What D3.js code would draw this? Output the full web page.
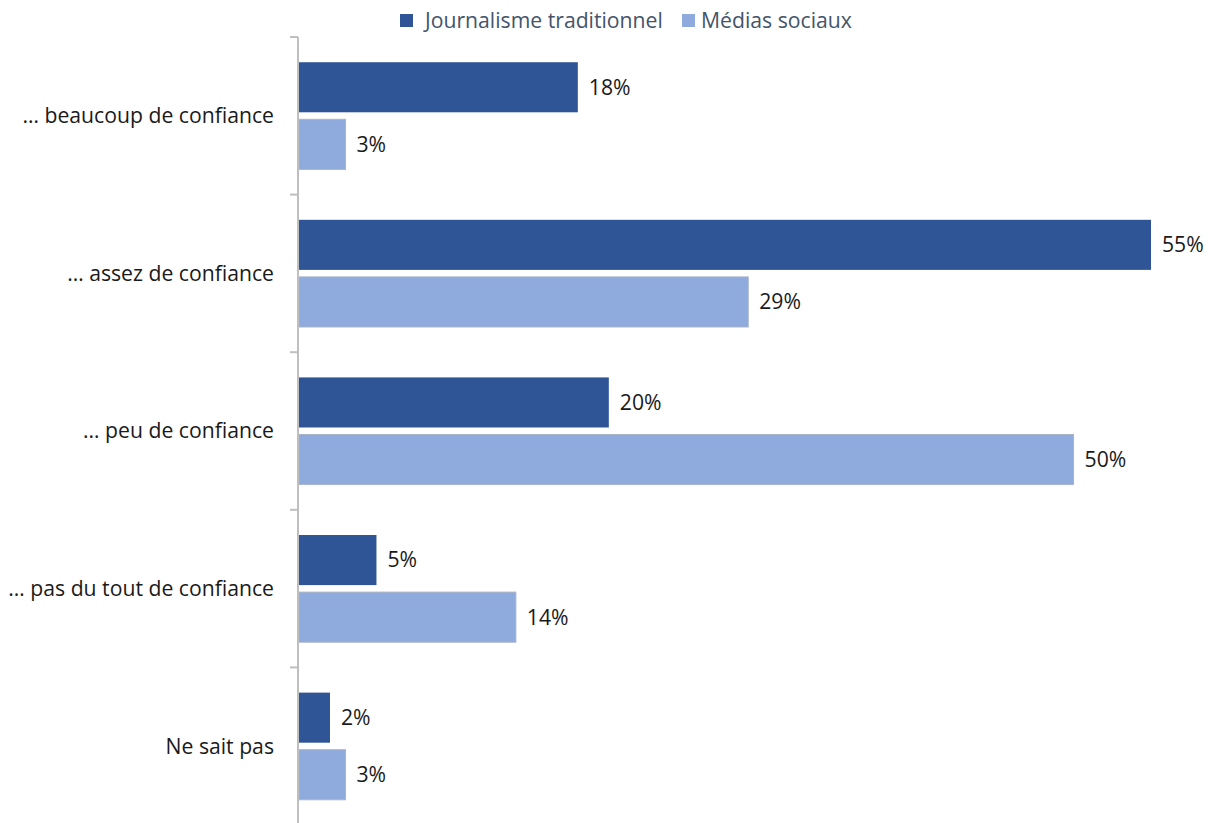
<!DOCTYPE html>
<html>
<head>
<meta charset="utf-8">
<script src="https://cdn.jsdelivr.net/npm/d3@7"></script>
<style>
  html, body { margin: 0; padding: 0; background: #fff; }
  svg { display: block; font-family: "Open Sans", "Segoe UI", sans-serif; }
</style>
</head>
<body>
<svg id="chart" width="1210" height="823"></svg>
<script>
// Niveau de confiance selon la source d'information (%)
const categories = [
  "… beaucoup de confiance",
  "… assez de confiance",
  "… peu de confiance",
  "… pas du tout de confiance",
  "Ne sait pas"
];
const seriesNames = ["Journalisme traditionnel", "Médias sociaux"];
const journalisme = [18, 55, 20, 5, 2];
const mediasSociaux = [3, 29, 50, 14, 3];
const seriesColors = ["#2F5597", "#8FAADC"];

const FONT = 21.2;
const svg = d3.select("#chart");
const margin = { top: 37, left: 298 };
const H = 823;
const plotBottom = 825;

const y = d3.scaleBand()
  .domain(categories)
  .range([margin.top, plotBottom])
  .paddingInner(0.32)
  .paddingOuter(0.16);

const x = d3.scaleLinear().domain([0, 55]).range([margin.left + 1, 1151]);

const inner = d3.scaleBand()
  .domain(seriesNames)
  .range([0, y.bandwidth()])
  .paddingInner(0.123);

const rows = categories.map((c, i) => ({
  cat: c,
  vals: [journalisme[i], mediasSociaux[i]]
}));

// Bars and value labels
const g = svg.append("g");
rows.forEach(r => {
  r.vals.forEach((v, j) => {
    const by = y(r.cat) + inner(seriesNames[j]);
    g.append("rect")
      .attr("x", x(0))
      .attr("y", by)
      .attr("width", x(v) - x(0))
      .attr("height", inner.bandwidth())
      .attr("fill", seriesColors[j])
      .attr("stroke", j === 1 ? "#A9B4C6" : "none")
      .attr("stroke-width", j === 1 ? 1 : 0);
    g.append("text")
      .attr("x", x(v) + 11)
      .attr("y", by + inner.bandwidth() / 2)
      .attr("dy", "0.35em")
      .attr("font-size", FONT)
      .attr("fill", "#1a1a1a")
      .text(v + "%");
  });
});

// Category axis
const step = y.step();
const boundaries = d3.range(categories.length).map(i => y(categories[i]) - y.paddingOuter() * step);
const axis = svg.append("g");
axis.append("line")
  .attr("x1", margin.left).attr("x2", margin.left)
  .attr("y1", margin.top).attr("y2", H)
  .attr("stroke", "#BFBFBF").attr("stroke-width", 2);
axis.selectAll("line.tick")
  .data(boundaries)
  .join("line")
  .attr("class", "tick")
  .attr("x1", margin.left - 8).attr("x2", margin.left)
  .attr("y1", d => d).attr("y2", d => d)
  .attr("stroke", "#BFBFBF").attr("stroke-width", 2);
axis.selectAll("text")
  .data(categories)
  .join("text")
  .attr("x", 274)
  .attr("y", d => y(d) + y.bandwidth() / 2)
  .attr("dy", "0.35em")
  .attr("text-anchor", "end")
  .attr("font-size", FONT)
  .attr("fill", "#1a1a1a")
  .text(d => d);

// Legend
const legend = svg.append("g");
const legendItems = [
  { name: seriesNames[0], color: seriesColors[0], x: 400, tx: 425 },
  { name: seriesNames[1], color: seriesColors[1], x: 682, tx: 701 }
];
legendItems.forEach(it => {
  legend.append("rect")
    .attr("x", it.x).attr("y", 14)
    .attr("width", 13).attr("height", 13)
    .attr("fill", it.color);
  legend.append("text")
    .attr("x", it.tx).attr("y", 20.5)
    .attr("dy", "0.35em")
    .attr("font-size", FONT)
    .attr("fill", "#44546A")
    .text(it.name);
});
</script>
</body>
</html>
